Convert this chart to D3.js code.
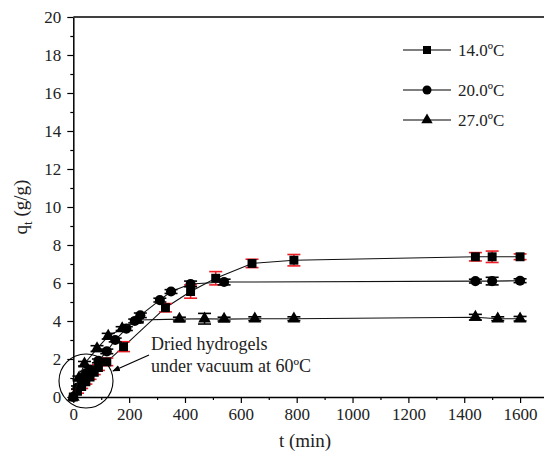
<!DOCTYPE html>
<html>
<head>
<meta charset="utf-8">
<script src="https://cdn.jsdelivr.net/npm/d3@7"></script>
<style>
  body { margin: 0; background: #fff; }
  svg { display: block; font-family: "Liberation Serif", "Times New Roman", serif; }
  svg text { font-family: "Liberation Serif", "Times New Roman", serif !important; }
</style>
</head>
<body>
<script>
// swelling kinetics data
const t14 = [0, 15, 30, 45, 60, 75, 90, 120, 180, 330, 420, 510, 640, 790, 1440, 1500, 1600];
const q14 = [0, 0.3, 0.55, 0.8, 1.05, 1.3, 1.55, 1.85, 2.65, 4.7, 5.55, 6.25, 7.03, 7.2, 7.38, 7.38, 7.38];
const e14 = [0, 0.1, 0.1, 0.12, 0.12, 0.12, 0.15, 0.2, 0.26, 0.22, 0.35, 0.35, 0.22, 0.3, 0.22, 0.3, 0.15];

const t20 = [0, 15, 30, 45, 60, 90, 120, 150, 190, 220, 240, 310, 350, 420, 540, 1440, 1500, 1600];
const q20 = [0, 0.5, 0.95, 1.25, 1.45, 1.9, 2.4, 3.0, 3.6, 4.0, 4.3, 5.1, 5.55, 5.95, 6.05, 6.1, 6.1, 6.12];
const e20 = [0, 0.08, 0.08, 0.1, 0.1, 0.1, 0.12, 0.1, 0.1, 0.1, 0.12, 0.1, 0.1, 0.15, 0.15, 0.1, 0.2, 0.1];

const t27 = [0, 20, 40, 85, 125, 175, 230, 380, 470, 540, 650, 790, 1440, 1520, 1600];
const q27 = [0, 1.0, 1.75, 2.55, 3.2, 3.6, 4.05, 4.1, 4.12, 4.1, 4.12, 4.12, 4.2, 4.12, 4.12];
const e27 = [0, 0.1, 0.12, 0.15, 0.15, 0.1, 0.1, 0.1, 0.28, 0.1, 0.1, 0.1, 0.15, 0.1, 0.12];

const seriesNames = ["14.0\u00baC", "20.0\u00baC", "27.0\u00baC"];
const xTicks = [0, 200, 400, 600, 800, 1000, 1200, 1400, 1600];
const yTicks = [0, 2, 4, 6, 8, 10, 12, 14, 16, 18, 20];

const W = 544, H = 451;
const svg = d3.select("body").append("svg").attr("width", W).attr("height", H);

const x = d3.scaleLinear().domain([0, 1700]).range([73.3, 548]);
const y = d3.scaleLinear().domain([0, 20]).range([397, 17]);

// frame top line
svg.append("line")
  .attr("x1", x(0)).attr("x2", x(1700))
  .attr("y1", y(20)).attr("y2", y(20))
  .attr("stroke", "#000").attr("stroke-width", 1.3);

// minor ticks
svg.append("g")
  .attr("transform", "translate(0," + y(0) + ")")
  .call(d3.axisBottom(x).tickValues(d3.range(100, 1700, 200)).tickSize(3).tickFormat(""))
  .call(g => g.select(".domain").remove());
svg.append("g")
  .attr("transform", "translate(" + x(0) + ",0)")
  .call(d3.axisLeft(y).tickValues(d3.range(1, 20, 2)).tickSize(3).tickFormat(""))
  .call(g => g.select(".domain").remove());

// major axes
svg.append("g")
  .attr("transform", "translate(0," + y(0) + ")")
  .call(d3.axisBottom(x).tickValues(xTicks).tickFormat(d3.format("d"))
    .tickSize(6).tickSizeOuter(0).tickPadding(5));
svg.append("g")
  .attr("transform", "translate(" + x(0) + ",0)")
  .call(d3.axisLeft(y).tickValues(yTicks).tickFormat(d3.format("d"))
    .tickSize(6).tickSizeOuter(0).tickPadding(6));

svg.selectAll(".tick line").attr("stroke", "#000").attr("stroke-width", 1.2);
svg.selectAll(".domain").attr("stroke", "#000").attr("stroke-width", 1.5);
svg.selectAll(".tick text")
  .attr("fill", "#222")
  .attr("font-size", 17);

// axis titles
svg.append("text")
  .attr("x", 305).attr("y", 447)
  .attr("text-anchor", "middle")
  .attr("font-size", 19).attr("fill", "#222")
  .text("t (min)");

const yt = svg.append("text")
  .attr("transform", "translate(27,207) rotate(-90)")
  .attr("text-anchor", "middle")
  .attr("font-size", 19).attr("fill", "#222");
yt.append("tspan").text("q");
yt.append("tspan").attr("dy", 5).attr("font-size", 13).text("t");
yt.append("tspan").attr("dy", -5).text(" (g/g)");

const plot = svg.append("g");

const allSeries = [
  { t: t14, q: q14, e: e14, sym: d3.symbolSquare, size: 80, err: "#ee1c24" },
  { t: t20, q: q20, e: e20, sym: d3.symbolCircle, size: 80, err: "#000" },
  { t: t27, q: q27, e: e27, sym: d3.symbolTriangle, size: 70, err: "#000" }
];

const line = d3.line().x(d => x(d[0])).y(d => y(d[1]));

allSeries.forEach(s => {
  const pts = s.t.map((t, i) => [t, s.q[i], s.e[i]]);
  plot.append("path")
    .attr("d", line(pts))
    .attr("fill", "none")
    .attr("stroke", "#111")
    .attr("stroke-width", 1.1);

  const eb = plot.append("g").attr("stroke", s.err).attr("stroke-width", 1.6);
  pts.filter(d => d[2] > 0).forEach(d => {
    const cx = x(d[0]);
    eb.append("line").attr("x1", cx).attr("x2", cx)
      .attr("y1", y(d[1] - d[2])).attr("y2", y(d[1] + d[2]));
    [d[1] - d[2], d[1] + d[2]].forEach(v => {
      eb.append("line").attr("x1", cx - 6.5).attr("x2", cx + 6.5)
        .attr("y1", y(v)).attr("y2", y(v));
    });
  });

  plot.append("g").selectAll("path")
    .data(pts)
    .join("path")
    .attr("transform", d => "translate(" + x(d[0]) + "," + y(d[1]) + ")")
    .attr("d", d3.symbol().type(s.sym).size(s.size))
    .attr("fill", "#000");
});

// legend
const legY = [50, 90, 120];
allSeries.forEach((s, i) => {
  const g = svg.append("g").attr("transform", "translate(403," + legY[i] + ")");
  g.append("line").attr("x1", 0).attr("x2", 48).attr("y1", 0).attr("y2", 0)
    .attr("stroke", "#000").attr("stroke-width", 1.1);
  g.append("path").attr("transform", "translate(24,0)")
    .attr("d", d3.symbol().type(s.sym).size(s.size * 0.8)).attr("fill", "#000");
  g.append("text").attr("x", 55).attr("y", 6)
    .attr("font-size", 17).attr("fill", "#222")
    .text(seriesNames[i]);
});

// annotation
svg.append("circle")
  .attr("cx", 86).attr("cy", 381).attr("r", 27)
  .attr("fill", "none").attr("stroke", "#000").attr("stroke-width", 1.1);

svg.append("defs").append("marker")
  .attr("id", "arr").attr("viewBox", "0 0 10 10")
  .attr("refX", 9).attr("refY", 5)
  .attr("markerWidth", 7).attr("markerHeight", 7)
  .attr("orient", "auto")
  .append("path").attr("d", "M0,1 L10,5 L0,9 Z").attr("fill", "#000");

svg.append("line")
  .attr("x1", 149).attr("y1", 355).attr("x2", 113).attr("y2", 371)
  .attr("stroke", "#000").attr("stroke-width", 1.1)
  .attr("marker-end", "url(#arr)");

svg.append("text").attr("x", 151).attr("y", 350)
  .attr("font-size", 18).attr("fill", "#222").text("Dried hydrogels");
svg.append("text").attr("x", 151).attr("y", 372)
  .attr("font-size", 18).attr("fill", "#222").text("under vacuum at 60\u00baC");
</script>
</body>
</html>
